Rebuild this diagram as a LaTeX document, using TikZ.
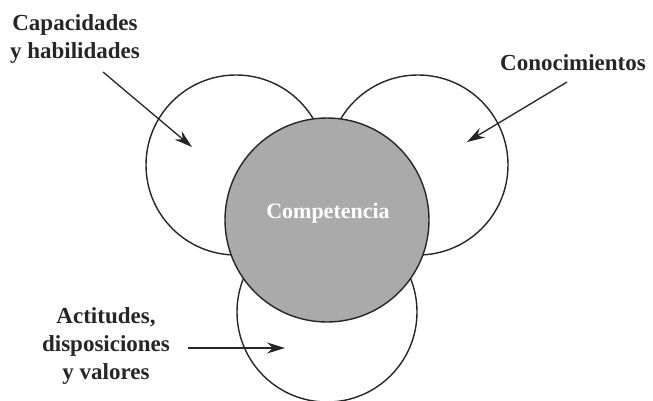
\documentclass[tikz,border=0pt]{standalone}
\usepackage{fontspec}
\setmainfont{Liberation Serif}
\usetikzlibrary{arrows.meta}
\definecolor{ink}{HTML}{262626}
\definecolor{coregray}{HTML}{AAAAAA}
\begin{document}
\begin{tikzpicture}[x=1pt,y=-1pt,
  ring/.style={circle, draw=ink, line width=1.4pt, fill=white, inner sep=0pt, outer sep=0pt, minimum size=180pt},
  core/.style={circle, draw=ink, line width=1.4pt, fill=coregray, inner sep=0pt, outer sep=0pt, minimum size=204pt},
  lbl/.style={text=ink, font=\fontsize{23}{28}\selectfont\bfseries, align=center, inner sep=0pt},
  pointer/.style={-{Stealth[length=18pt,width=11pt]}, line width=1.3pt, draw=ink}]
\useasboundingbox (0,0) rectangle (653,401);
% outer circles
\node[ring] (left)   at (236,165) {};
\node[ring] (right)  at (418,165) {};
\node[ring] (bottom) at (327,312) {};
% central circle
\node[core] (comp) at (327,220) {};
\node[text=white, font=\fontsize{22}{26}\selectfont\bfseries, inner sep=0pt] (comptext) at (328,213) {Competencia};
% labels
\node[lbl] (cap) at (75,39) {Capacidades\\y habilidades};
\node[lbl] (con) at (573,63) {Conocimientos};
\node[lbl] (act) at (106,346) {Actitudes,\\disposiciones\\y valores};
% arrow ends
\coordinate (capS) at (103,72);
\coordinate (capT) at (192,147);
\coordinate (conS) at (567,82);
\coordinate (conT) at (467,142);
\coordinate (actS) at (188,348);
\coordinate (actT) at (285,348);
\draw[pointer] (capS) -- (capT);
\draw[pointer] (conS) -- (conT);
\draw[pointer] (actS) -- (actT);
\end{tikzpicture}
\end{document}
